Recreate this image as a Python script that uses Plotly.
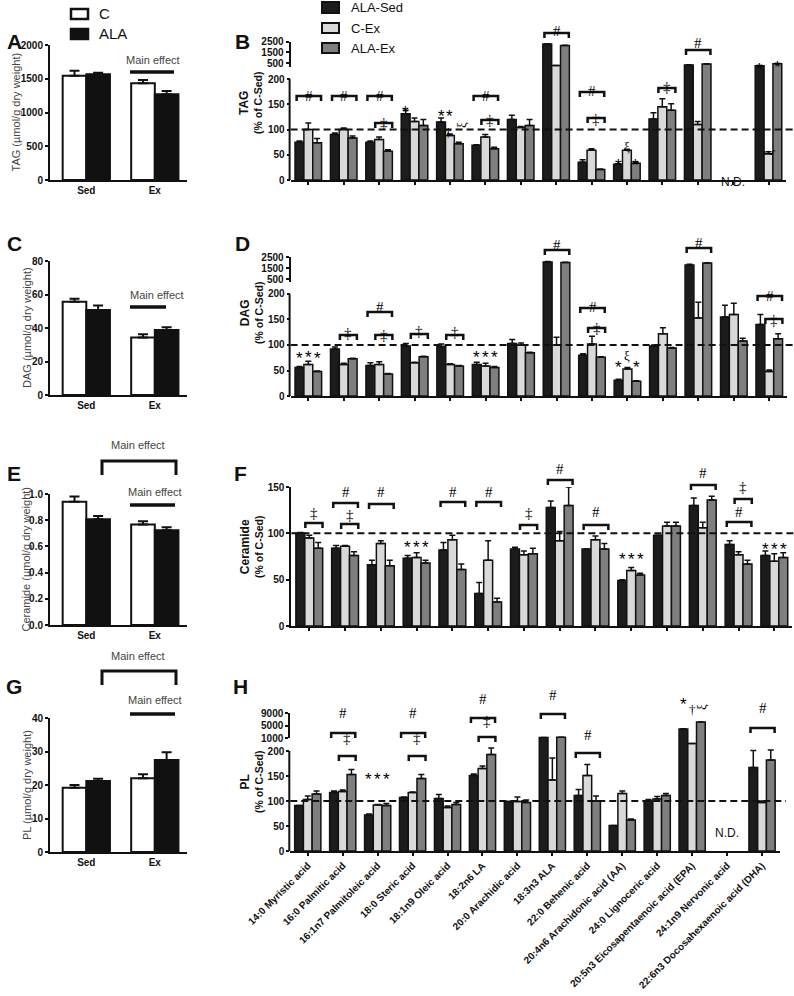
import plotly.graph_objects as go

FIG_W, FIG_H = 794, 996
FONT = "Arial, Liberation Sans, sans-serif"
SERIF = "Liberation Serif, DejaVu Serif, serif"
INK = "#111111"
COL_ALA_SED = "#1c1c1c"
COL_C_EX = "#d9d9d9"
COL_ALA_EX = "#7f7f7f"

# ---------------- data: left panels (absolute content) ----------------
conditions = ["Sed", "Ex"]
tag_c = [1545, 1435]
tag_c_err = [75, 45]
tag_ala = [1565, 1270]
tag_ala_err = [25, 50]
dag_c = [55.7, 34.4]
dag_c_err = [1.8, 1.8]
dag_ala = [50.7, 38.8]
dag_ala_err = [2.8, 1.6]
cer_c = [0.94, 0.767]
cer_c_err = [0.04, 0.025]
cer_ala = [0.808, 0.723]
cer_ala_err = [0.025, 0.023]
pl_c = [19.2, 22.0]
pl_c_err = [0.8, 1.2]
pl_ala = [21.2, 27.5]
pl_ala_err = [0.7, 2.3]

# ---------------- data: right panels (% of C-Sed) ----------------
fatty_acids = ["14:0 Myristic acid", "16:0 Palmitic acid", "16:1n7 Palmitoleic acid",
               "18:0 Steric acid", "18:1n9 Oleic acid", "18:2n6 LA", "20:0 Arachidic acid",
               "18:3n3 ALA", "22:0 Behenic acid", "20:4n6 Arachidonic acid (AA)",
               "24:0 Lignoceric acid", "20:5n3 Eicosapentaenoic acid (EPA)",
               "24:1n9 Nervonic acid", "22:6n3 Docosahexaenoic acid (DHA)"]
series_names = ["ALA-Sed", "C-Ex", "ALA-Ex"]

tag_ala_sed = [75, 90, 75, 131, 115, 69, 120, 2280, 35, 31, 121, 340, None, 275]
tag_ala_sed_err = [2, 3, 2, 7, 8, 1, 8, 30, 5, 1, 12, 20, None, 20]
tag_c_ex = [100, 100, 80, 116, 88, 85, 104, 280, 59, 59, 145, 110, None, 52]
tag_c_ex_err = [13, 3, 5, 7, 3, 5, 2, 10, 3, 2, 16, 6, None, 4]
tag_ala_ex = [74, 83, 57, 108, 72, 62, 108, 2140, 21, 33, 138, 430, None, 460]
tag_ala_ex_err = [8, 4, 3, 12, 3, 3, 12, 30, 1, 2, 13, 20, None, 20]

dag_ala_sed = [56, 92, 60, 98, 97, 62, 103, 2050, 80, 31, 98, 1770, 155, 140]
dag_ala_sed_err = [2, 4, 5, 5, 5, 4, 8, 30, 3, 2, 2, 60, 23, 20]
dag_c_ex = [62, 62, 62, 65, 62, 59, 100, 100, 102, 53, 122, 153, 160, 48]
dag_c_ex_err = [6, 2, 5, 1, 1, 5, 4, 15, 15, 3, 12, 31, 22, 3]
dag_ala_ex = [48, 73, 43, 77, 59, 56, 85, 2000, 76, 29, 94, 1950, 108, 112]
dag_ala_ex_err = [1, 1, 1, 1, 1, 2, 1, 30, 1, 1, 1, 30, 5, 10]

cer_ala_sed = [100, 84, 66, 73, 82, 35, 83, 128, 83, 49, 98, 130, 88, 76]
cer_ala_sed_err = [1, 3, 5, 3, 8, 12, 2, 7, 0, 1, 0, 8, 4, 5]
cer_c_ex = [95, 86, 89, 74, 93, 71, 77, 92, 93, 60, 108, 106, 77, 70]
cer_c_ex_err = [3, 1, 3, 5, 5, 21, 4, 10, 4, 3, 4, 6, 3, 8]
cer_ala_ex = [84, 76, 65, 68, 61, 26, 78, 130, 83, 55, 108, 136, 67, 74]
cer_ala_ex_err = [6, 4, 6, 3, 6, 4, 6, 20, 6, 2, 4, 4, 4, 5]

pl_ala_sed = [91, 117, 72, 107, 105, 151, 99, 1150, 111, 51, 100, 3900, None, 167]
pl_ala_sed_err = [0, 3, 2, 1, 8, 3, 0, 30, 12, 0, 3, 30, None, 34]
pl_c_ex = [103, 119, 92, 117, 87, 165, 99, 142, 151, 115, 104, 215, None, 97]
pl_c_ex_err = [7, 3, 1, 1, 3, 5, 9, 44, 22, 5, 5, 0, None, 3]
pl_ala_ex = [114, 153, 91, 145, 93, 193, 97, 1200, 100, 62, 111, 6100, None, 182]
pl_ala_ex_err = [6, 10, 4, 8, 4, 13, 5, 30, 10, 2, 4, 50, None, 20]

# ---------------- helpers ----------------
fig = go.Figure()
layout = {}
shapes = []
ann = []


def ypx(p):
    return 1 - p / FIG_H


def xpx(p):
    return p / FIG_W


def sfx(n):
    return "" if n == 1 else str(n)


bold_tick = dict(family=FONT, size=10, color=INK, weight="bold")


def text(t, x, y, size=12, family=FONT, color=INK, xref="paper", bold=False, angle=0, xanchor="center"):
    ann.append(dict(text=t, x=x, y=y, xref=xref, yref="paper", showarrow=False, textangle=angle,
                    xanchor=xanchor, yanchor="middle",
                    font=dict(family=family, size=size, color=color, weight="bold" if bold else "normal")))


def add_left(n, c, c_err, a, a_err, top_px, bot_px, yrange, yticks, fmt, title, title_x):
    xs = list(range(len(conditions)))
    xa, ya = "x" + sfx(n), "y" + sfx(n)
    for vals, errs, fill, off, nm in [(c, c_err, "white", -0.345, "C"), (a, a_err, INK, 0.0, "ALA")]:
        fig.add_trace(go.Bar(x=xs, y=vals, width=0.345, offset=off, xaxis=xa, yaxis=ya, name=nm,
                             marker=dict(color=fill, line=dict(color=INK, width=2)),
                             error_y=dict(type="data", array=errs, arrayminus=[0] * len(errs),
                                          symmetric=False, color=INK, thickness=2, width=5),
                             showlegend=False))
    layout["xaxis" + sfx(n)] = dict(domain=[xpx(50), xpx(187)], anchor=ya, range=[-0.53, 1.47],
                                    tickmode="array", tickvals=xs, ticktext=conditions,
                                    showline=True, linewidth=2, linecolor=INK, ticks="",
                                    tickfont=bold_tick, showgrid=False, zeroline=False)
    layout["yaxis" + sfx(n)] = dict(domain=[ypx(bot_px), ypx(top_px)], anchor=xa, range=yrange,
                                    tickmode="array", tickvals=yticks, tickformat=fmt,
                                    showline=True, linewidth=2, linecolor=INK, ticks="outside",
                                    ticklen=3, tickwidth=2, tickcolor=INK, tickfont=bold_tick,
                                    showgrid=False, zeroline=False)
    text(title, xpx(title_x), ypx((top_px + bot_px) / 2), size=11, color="#444", angle=-90)


def add_right(n, nup, series, xdom, low_dom, low_top, low_ticks, up_dom=None, up_range=None,
              up_ticks=None, show_labels=False, dash_end=794):
    xs = list(range(len(fatty_acids)))
    xa, ya = "x" + sfx(n), "y" + sfx(n)
    for (name, vals, errs), fill in zip(series, [COL_ALA_SED, COL_C_EX, COL_ALA_EX]):
        err = [e if e is not None else 0 for e in errs]
        common = dict(x=xs, name=name, xaxis=xa, showlegend=False,
                      marker=dict(color=fill, line=dict(color=INK, width=1.5)))
        fig.add_trace(go.Bar(y=vals, yaxis=ya,
                             error_y=dict(type="data", array=err, arrayminus=[0] * len(err),
                                          symmetric=False, color=INK, thickness=1.5, width=3),
                             **common))
        if nup:
            up_vals = [v if (v is not None and v > low_top) else None for v in vals]
            up_err = [e if (v is not None and v > low_top) else 0 for v, e in zip(vals, err)]
            fig.add_trace(go.Bar(y=up_vals, yaxis="y" + str(nup),
                                 error_y=dict(type="data", array=up_err, arrayminus=[0] * len(err),
                                              symmetric=False, color=INK, thickness=1.5, width=3),
                                 **common))
    layout["xaxis" + sfx(n)] = dict(domain=[xpx(xdom[0]), xpx(xdom[1])], anchor=ya, range=[-0.5, 13.5],
                                    tickmode="array", tickvals=xs, ticktext=fatty_acids,
                                    showticklabels=show_labels, tickangle=-45, tickfont=bold_tick,
                                    ticks="outside", ticklen=3, tickwidth=1.5, tickcolor=INK,
                                    showline=True, linewidth=2, linecolor=INK,
                                    showgrid=False, zeroline=False)
    layout["yaxis" + sfx(n)] = dict(domain=[ypx(low_dom[1]), ypx(low_dom[0])], anchor=xa,
                                    range=[0, low_top], tickmode="array", tickvals=low_ticks,
                                    showline=nup is None, linewidth=2, linecolor=INK,
                                    ticks="outside", ticklen=3, tickwidth=2, tickcolor=INK,
                                    tickfont=bold_tick, showgrid=False, zeroline=False)
    if nup:
        layout["yaxis" + str(nup)] = dict(domain=[ypx(up_dom[1]), ypx(up_dom[0])], anchor=xa,
                                          range=list(up_range), tickmode="array", tickvals=up_ticks,
                                          showline=True, linewidth=2, linecolor=INK,
                                          ticks="outside", ticklen=3, tickwidth=2, tickcolor=INK,
                                          tickfont=bold_tick, showgrid=False, zeroline=False)
        # lower part of the broken y axis line (0..top tick only)
        width_px = xdom[1] - xdom[0]
        shapes.append(dict(type="line", xref=xa + " domain", yref=ya, x0=-1 / width_px, x1=-1 / width_px,
                           y0=-2, y1=low_ticks[-1], line=dict(color=INK, width=2)))
    # reference line at 100 % of C-Sed
    shapes.append(dict(type="line", xref="paper", yref=ya, x0=xpx(xdom[0]), x1=xpx(dash_end),
                       y0=100, y1=100, layer="above", line=dict(color=INK, width=2, dash="7px,4px")))
    return xa


def brackets(xa, items):
    for g, kind, top_px, sym, sym_px in items:
        a, b = (-0.33, 0.36) if kind == "bg" else (-0.11, 0.37)
        yt, yb = ypx(top_px), ypx(top_px + 5)
        shapes.append(dict(type="path", xref=xa, yref="paper",
                           path=f"M {g + a},{yb} L {g + a},{yt} L {g + b},{yt} L {g + b},{yb}",
                           line=dict(color=INK, width=2.5)))
        ann.append(dict(text=sym, x=g + (a + b) / 2, y=ypx(sym_px), xref=xa, yref="paper",
                        showarrow=False,
                        font=dict(family=SERIF, size=15, color="#000000")))


def marks(xa, items):
    offs = {"k": -0.25, "l": 0.0, "g": 0.25, "g+": 0.34, "l-": -0.04}
    for g, which, sym, y_px, rot in items:
        size = 17 if sym == "*" else 13
        fam = FONT if sym == "*" else SERIF
        ann.append(dict(text=sym, x=g + offs[which], y=ypx(y_px), xref=xa, yref="paper",
                        showarrow=False, textangle=rot,
                        font=dict(family=fam, size=size, color="#000000")))


# ---------------- left panels ----------------
add_left(1, tag_c, tag_c_err, tag_ala, tag_ala_err, 45, 180, [0, 2000], [0, 500, 1000, 1500, 2000], None,
         "TAG (µmol/g dry weight)", 16)
add_left(3, dag_c, dag_c_err, dag_ala, dag_ala_err, 261, 395, [0, 80], [0, 20, 40, 60, 80], None,
         "DAG (µmol/g dry weight)", 27)
add_left(5, cer_c, cer_c_err, cer_ala, cer_ala_err, 494, 625, [0, 1.0], [0, 0.2, 0.4, 0.6, 0.8, 1.0], ".1f",
         "Ceramide (µmol/g dry weight)", 25)
add_left(7, pl_c, pl_c_err, pl_ala, pl_ala_err, 718, 852, [0, 40], [0, 10, 20, 30, 40], None,
         "PL (µmol/g dry weight)", 27)

# main effect marks (left)
for tx, ty, y_line, x0, x1 in [(153, 60, 72, 130, 174), (157, 295, 307, 130, 166), (155, 492, 505, 130, 175),
                               (155, 700, 714, 130, 175)]:
    text("Main effect", xpx(tx), ypx(ty), size=11, color="#444")
    shapes.append(dict(type="line", xref="paper", yref="paper", x0=xpx(x0), x1=xpx(x1),
                       y0=ypx(y_line), y1=ypx(y_line), line=dict(color=INK, width=3.5)))
for tx, ty, top, bot in [(138, 445, 461, 475), (138, 656, 671, 685)]:
    text("Main effect", xpx(tx), ypx(ty), size=11, color="#444")
    shapes.append(dict(type="path", xref="paper", yref="paper",
                       path=f"M {xpx(102)},{ypx(bot)} L {xpx(102)},{ypx(top)} L {xpx(176)},{ypx(top)} L {xpx(176)},{ypx(bot)}",
                       line=dict(color=INK, width=3)))

# ---------------- right panels ----------------
xb = add_right(2, 9, [("ALA-Sed", tag_ala_sed, tag_ala_sed_err), ("C-Ex", tag_c_ex, tag_c_ex_err),
                      ("ALA-Ex", tag_ala_ex, tag_ala_ex_err)],
               (290.6, 786.2), (67, 180), 223.8, [0, 50, 100, 150, 200],
               (41.7, 67), (152, 2500), [500, 1500, 2500])
xd = add_right(4, 10, [("ALA-Sed", dag_ala_sed, dag_ala_sed_err), ("C-Ex", dag_c_ex, dag_c_ex_err),
                       ("ALA-Ex", dag_ala_ex, dag_ala_ex_err)],
               (290.6, 787), (282, 396), 223.5, [0, 50, 100, 150, 200],
               (257, 282), (227, 2500), [500, 1500, 2500])
xf = add_right(6, None, [("ALA-Sed", cer_ala_sed, cer_ala_sed_err), ("C-Ex", cer_c_ex, cer_c_ex_err),
                         ("ALA-Ex", cer_ala_ex, cer_ala_ex_err)],
               (291.4, 792.2), (487, 626), 150, [0, 50, 100, 150])
xh = add_right(8, 11, [("ALA-Sed", pl_ala_sed, pl_ala_sed_err), ("C-Ex", pl_c_ex, pl_c_ex_err),
                       ("ALA-Ex", pl_ala_ex, pl_ala_ex_err)],
               (290.3, 779.5), (738, 851), 226, [0, 50, 100, 150, 200],
               (713, 738), (1000, 9000), [1000, 5000, 9000], show_labels=True, dash_end=786)

brackets(xb, [(0, "bg", 96, "#", 86), (1, "bg", 96, "#", 86), (2, "bg", 96, "#", 86),
              (2, "lg", 123, "‡", 113), (5, "bg", 96, "#", 86), (5, "lg", 120, "‡", 110),
              (7, "bg", 33, "#", 21), (8, "bg", 92, "#", 81), (8, "lg", 118, "‡", 109),
              (10, "lg", 88, "‡", 77), (11, "bg", 50, "#", 33)])
marks(xb, [(3, "k", "*", 101, 0), (4, "k", "*", 105, 0), (4, "l", "*", 105, 0), (4, "l-", "†", 123, 0),
           (4, "g+", "ξ", 120, -90), (9, "k", "*", 154, 0), (9, "g", "*", 154, 0), (9, "l", "ξ", 137, 0),
           (13, "k", "*", 58, 0), (13, "g", "*", 56, 0), (13, "l", "ξ", 148, -90)])

brackets(xd, [(1, "lg", 335, "‡", 323), (2, "bg", 312, "#", 297), (2, "lg", 335, "‡", 325),
              (3, "lg", 334, "‡", 321), (4, "lg", 335, "‡", 322), (7, "bg", 250, "#", 235),
              (8, "bg", 308, "#", 297), (8, "lg", 328, "‡", 318), (11, "bg", 248, "#", 233),
              (13, "bg", 296, "#", 286), (13, "lg", 319, "‡", 310)])
marks(xd, [(0, "k", "*", 358, 0), (0, "l", "*", 357, 0), (0, "g", "*", 358, 0),
           (5, "k", "*", 357, 0), (5, "l", "*", 357, 0), (5, "g", "*", 357, 0),
           (9, "k", "*", 368, 0), (9, "g", "*", 368, 0), (9, "l", "ξ", 355, 0)])

brackets(xf, [(0, "lg", 523, "‡", 513), (1, "bg", 503, "#", 492), (1, "lg", 524, "‡", 515),
              (2, "bg", 504, "#", 492), (4, "bg", 502, "#", 492), (5, "bg", 502, "#", 492),
              (6, "lg", 525, "‡", 513), (7, "bg", 480, "#", 469), (8, "bg", 525, "#", 512),
              (11, "bg", 485, "#", 473), (12, "bg", 522, "#", 512), (12, "lg", 499, "‡", 487)])
marks(xf, [(g, w, "*", y, 0) for g, y in [(3, 547), (9, 559), (13, 549)] for w in ("k", "l", "g")])

brackets(xh, [(1, "bg", 733, "#", 723), (1, "lg", 756, "‡", 748), (3, "bg", 733, "#", 723),
              (3, "lg", 756, "‡", 748), (5, "bg", 718, "#", 709), (5, "lg", 737, "‡", 731),
              (7, "bg", 714, "#", 705), (8, "bg", 753, "#", 745), (13, "bg", 728, "#", 718)])
marks(xh, [(2, "k", "*", 791, 0), (2, "l", "*", 791, 0), (2, "g", "*", 791, 0),
           (11, "k", "*", 716, 0), (11, "l", "†", 719, 0), (11, "g", "ξ", 712, -90)])

for xa, y_px in [(xb, 173), (xh, 842)]:
    ann.append(dict(text="N.D.", x=12, y=ypx(y_px), xref=xa, yref="paper", showarrow=False,
                    font=dict(family=FONT, size=12, color=INK)))

# right-panel axis titles
for name, yc in [("TAG", 103), ("DAG", 313), ("Ceramide", 547), ("PL", 782)]:
    text(f"<span style='font-size:12px'>{name}</span><br>(% of C-Sed)", xpx(251), ypx(yc),
         size=10.5, bold=True, angle=-90)

# panel letters
for letter, lx, ly in [("A", 14, 42), ("B", 243, 42), ("C", 14, 243), ("D", 242, 243),
                       ("E", 14, 473), ("F", 240, 473), ("G", 14, 686), ("H", 240, 686)]:
    text(letter, xpx(lx), ypx(ly), size=21, bold=True)

# legends
for (y0, y1), fill, label in [((9, 19), "white", "C"), ((29, 39), INK, "ALA")]:
    shapes.append(dict(type="rect", xref="paper", yref="paper", x0=xpx(71), x1=xpx(88),
                       y0=ypx(y1), y1=ypx(y0), fillcolor=fill, line=dict(color=INK, width=2.5)))
    text(label, xpx(97), ypx((y0 + y1) / 2), size=15, xanchor="left")
for (y0, y1), fill, label in zip([(2, 13), (23, 33), (43, 53)], [COL_ALA_SED, COL_C_EX, COL_ALA_EX], series_names):
    shapes.append(dict(type="rect", xref="paper", yref="paper", x0=xpx(322), x1=xpx(339),
                       y0=ypx(y1), y1=ypx(y0), fillcolor=fill, line=dict(color=INK, width=2)))
    text(label, xpx(349), ypx((y0 + y1) / 2), size=13, xanchor="left")

fig.update_layout(**layout)
fig.update_layout(width=FIG_W, height=FIG_H, margin=dict(l=0, r=0, t=0, b=0), template="none",
                  paper_bgcolor="white", plot_bgcolor="white", barmode="group", bargap=0.25,
                  bargroupgap=0, showlegend=False, shapes=shapes, annotations=ann,
                  font=dict(family=FONT, color=INK))
# remove the default 8px page margin so the figure sits at the window origin
fig.write_html("out.html", config={"displayModeBar": False},
               post_script="document.body.style.margin='0';document.body.style.overflow='hidden';")
